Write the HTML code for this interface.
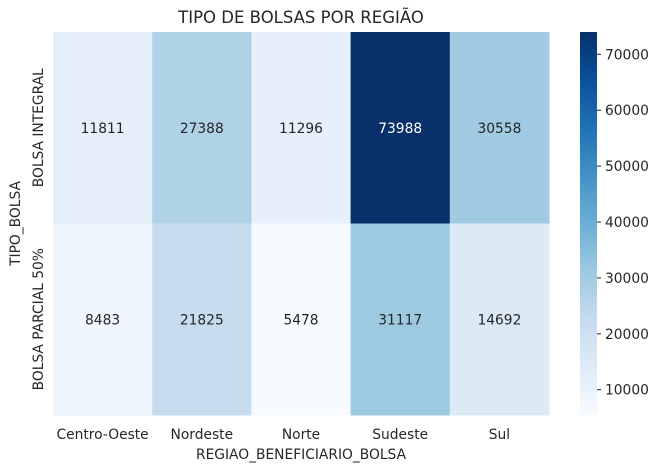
<!DOCTYPE html>
<html><head><meta charset="utf-8">
<style>
body{margin:0;background:#fff;font-family:"Liberation Sans","DejaVu Sans",sans-serif;}
svg text{font-family:"DejaVu Sans","Liberation Sans",sans-serif;}
</style></head>
<body>
<svg id="chart" width="663" height="470" xmlns="http://www.w3.org/2000/svg">
<defs><linearGradient id="cbgrad" x1="0" y1="1" x2="0" y2="0"></linearGradient></defs>
</svg>
<script>
const regions=["Centro-Oeste","Nordeste","Norte","Sudeste","Sul"];
const types=["BOLSA INTEGRAL","BOLSA PARCIAL 50%"];
const integral=[11811,27388,11296,73988,30558];
const parcial=[8483,21825,5478,31117,14692];
const cbTicks=[10000,20000,30000,40000,50000,60000,70000];
const rows=[integral,parcial];
const NS="http://www.w3.org/2000/svg";
const svg=document.getElementById('chart');
const X0=53,X1=549,Y0=32,Y1=415;
const FS=13.8;
const cw=(X1-X0)/regions.length, rh=(Y1-Y0)/types.length;
const all=integral.concat(parcial);
const vmin=Math.min(...all), vmax=Math.max(...all);
const stops=["#f7fbff","#deebf7","#c6dbef","#9ecae1","#6baed6","#4292c6","#2171b5","#08519c","#08306b"].map(h=>[parseInt(h.slice(1,3),16),parseInt(h.slice(3,5),16),parseInt(h.slice(5,7),16)]);
function cmap(t){t=Math.max(0,Math.min(1,t));const p=t*(stops.length-1);const i=Math.min(Math.floor(p),stops.length-2);const f=p-i;return stops[i].map((v,k)=>Math.round(v+(stops[i+1][k]-v)*f));}
function rgb(c){return `rgb(${c[0]},${c[1]},${c[2]})`;}
function lum(c){const l=c.map(v=>{v/=255;return v<=0.03928?v/12.92:Math.pow((v+0.055)/1.055,2.4)});return 0.2126*l[0]+0.7152*l[1]+0.0722*l[2];}
function el(tag,attrs,txt){const e=document.createElementNS(NS,tag);for(const k in attrs)e.setAttribute(k,attrs[k]);if(txt!==undefined)e.textContent=txt;svg.appendChild(e);return e;}
const xPos=i=>X0+i*cw, yPos=j=>Y0+j*rh;
rows.forEach((row,j)=>row.forEach((v,i)=>{
  const c=cmap((v-vmin)/(vmax-vmin));
  const r=el('rect',{x:xPos(i),y:yPos(j),width:cw+0.5,height:rh+0.5,fill:rgb(c)});
  
  
  const t=el('text',{x:xPos(i)+cw/2,y:yPos(j)+rh/2+5,'text-anchor':'middle','font-size':FS,fill:lum(c)>0.408?'#262626':'#ffffff'},String(v));
  
  
}));
regions.forEach((r,i)=>{const t=el('text',{x:xPos(i)+cw/2,y:439,'text-anchor':'middle','font-size':FS,fill:'#262626'},r);
});
types.forEach((r,j)=>{const cy=yPos(j)+rh/2;const t=el('text',{x:0,y:0,transform:`translate(43,${cy}) rotate(-90)`,'text-anchor':'middle','font-size':FS,fill:'#262626'},r);
});
let t=el('text',{x:X0+(X1-X0)/2,y:459,'text-anchor':'middle','font-size':FS,fill:'#262626'},'REGIAO_BENEFICIARIO_BOLSA');

t=el('text',{x:0,y:0,transform:`translate(20,${(Y0+Y1)/2}) rotate(-90)`,'text-anchor':'middle','font-size':FS,fill:'#262626'},'TIPO_BOLSA');

t=el('text',{x:X0+(X1-X0)/2,y:23,'text-anchor':'middle','font-size':16.5,fill:'#262626'},'TIPO DE BOLSAS POR REGIÃO');

const g=document.getElementById('cbgrad');
for(let k=0;k<=20;k++){const s=document.createElementNS(NS,'stop');s.setAttribute('offset',k/20);s.setAttribute('stop-color',rgb(cmap(k/20)));g.appendChild(s);}
const CX=580,CW=17;
const r=el('rect',{x:CX,y:Y0,width:CW,height:Y1-Y0,fill:'url(#cbgrad)'});

const cy=v=>Y1-(v-vmin)/(vmax-vmin)*(Y1-Y0);
cbTicks.forEach(v=>{const y=cy(v);
 const tl=el('line',{x1:CX+CW,x2:CX+CW+4,y1:y,y2:y,stroke:'#262626','stroke-width':1});
 
 const tt=el('text',{x:CX+CW+8,y:y+5,'font-size':FS,fill:'#262626'},String(v));
 });
</script>
</body></html>
